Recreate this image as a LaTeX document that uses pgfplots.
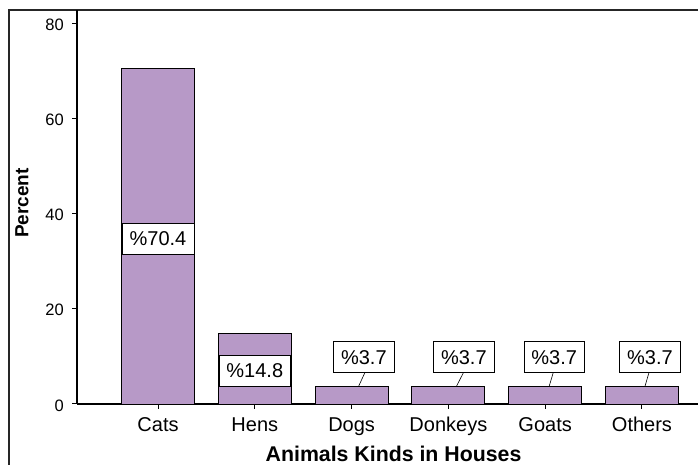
\documentclass[border=0pt]{standalone}
\usepackage{pgfplots}
\pgfplotsset{compat=1.18}
\usepackage{fontspec}
\setmainfont{Liberation Sans}
\definecolor{barfill}{RGB}{183,153,199}
\tikzset{lbl/.style={draw=black, line width=0.6pt, fill=white, font=\fontsize{20}{24}\selectfont, inner xsep=7.5pt, inner ysep=0pt, minimum height=31pt}}
\begin{document}
\begin{tikzpicture}[x=1pt,y=1pt]
\path[use as bounding box] (0,0) rectangle (698,465);
\draw[line width=1.2pt, black!85] (9,0) -- (9,455) -- (698,455);
\begin{axis}[
  at={(77pt,61pt)}, anchor=south west,
  scale only axis, width=621pt, height=394pt,
  xmin=-0.837, xmax=5.579, ymin=0, ymax=82.75,
  axis lines*=left,
  axis line style={line width=1.2pt, black},
  tick align=outside,
  major tick length=5pt,
  tick style={line width=1pt, black},
  xtick={0,1,2,3,4,5},
  xticklabels={Cats,Hens,Dogs,Donkeys,Goats,Others},
  ytick={0,20,40,60,80},
  /pgf/number format/assume math mode=true,
  xticklabel style={font=\fontsize{20}{24}\selectfont, anchor=base, inner sep=0pt, yshift=-22.7pt},
  yticklabel style={font=\fontsize{16.5}{19}\selectfont, anchor=east, inner sep=0pt, xshift=-8pt, yshift=-1.5pt},
  xlabel={Animals Kinds in Houses},
  xlabel style={at={(axis description cs:0.5097,-0.145)}, anchor=base, font=\bfseries\fontsize{21.3}{25}\selectfont},
  ylabel={Percent},
  ylabel style={at={(axis description cs:-0.0886,0.510)}, anchor=center, font=\bfseries\fontsize{19}{23}\selectfont},
]
\addplot[ybar, bar width=73pt, fill=barfill, draw=black, line width=0.8pt]
  coordinates {(0,70.4) (1,14.8) (2,3.7) (3,3.7) (4,3.7) (5,3.7)};
\node[lbl] at (axis cs:0,34.8) {\%70.4};
\node[lbl] at (axis cs:1,7.0) {\%14.8};
\draw[black, line width=0.6pt] (axis cs:2.072,3.7) -- (axis cs:2.137,6.57);
\draw[black, line width=0.6pt] (axis cs:3.083,3.7) -- (axis cs:3.155,6.57);
\draw[black, line width=0.6pt] (axis cs:4.041,3.7) -- (axis cs:4.083,6.57);
\draw[black, line width=0.6pt] (axis cs:5.031,3.7) -- (axis cs:5.072,6.57);
\node[lbl] at (axis cs:2.127,9.82) {\%3.7};
\node[lbl] at (axis cs:3.160,9.82) {\%3.7};
\node[lbl] at (axis cs:4.093,9.82) {\%3.7};
\node[lbl] at (axis cs:5.083,9.82) {\%3.7};
\end{axis}
\end{tikzpicture}
\end{document}
